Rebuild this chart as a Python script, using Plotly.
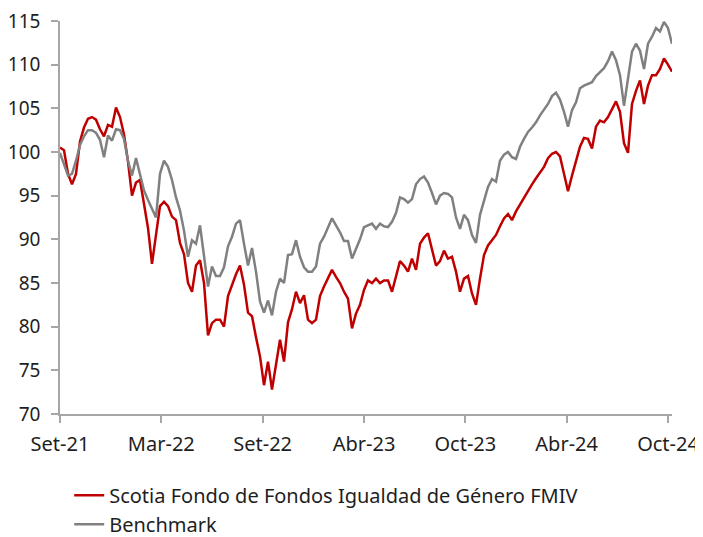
import plotly.graph_objects as go

tick_labels = ["Set-21", "Mar-22", "Set-22", "Abr-23", "Oct-23", "Abr-24", "Oct-24"]

fund = [100.5, 100.2, 97.5, 96.3, 97.5, 101.2, 102.8, 103.8, 104.0, 103.7,
        102.6, 101.8, 103.1, 102.9, 105.1, 104.0, 102.0, 98.9, 95.0, 96.5,
        96.8, 94.2, 91.3, 87.2, 90.5, 93.8, 94.3, 93.8, 92.6, 92.2,
        89.6, 88.3, 85.0, 84.0, 87.0, 87.6, 85.0, 79.0, 80.4, 80.8,
        80.8, 80.0, 83.5, 84.8, 86.0, 87.0, 84.8, 81.6, 81.2, 78.8,
        76.6, 73.3, 76.0, 72.8, 75.5, 78.5, 76.0, 80.5, 82.0, 84.0,
        82.7, 83.6, 80.8, 80.4, 80.8, 83.5, 84.6, 85.5, 86.5, 85.7,
        85.0, 84.0, 83.2, 79.8, 81.5, 82.5, 84.2, 85.3, 85.0, 85.5,
        85.0, 85.3, 85.3, 84.0, 85.9, 87.5, 87.0, 86.3, 87.8, 86.5,
        89.5, 90.2, 90.7, 88.8, 87.0, 87.5, 88.7, 87.8, 88.0, 86.3,
        84.0, 85.5, 85.8, 83.8, 82.5, 85.5, 88.2, 89.3, 89.9, 90.5,
        91.5, 92.4, 92.9, 92.2, 93.2, 94.0, 94.8, 95.6, 96.3, 97.0,
        97.6, 98.3, 99.3, 99.8, 100.0, 99.5, 97.5, 95.5, 97.3, 99.0,
        100.6, 101.6, 101.5, 100.4, 102.9, 103.6, 103.4, 104.0, 105.0, 105.8,
        104.6, 101.0, 99.9, 105.5, 107.0, 108.2, 105.5, 107.6, 108.8, 108.8,
        109.5, 110.7, 110.0, 109.2]

benchmark = [99.9, 98.5, 97.3, 97.5, 99.0, 100.8, 101.8, 102.5, 102.5, 102.2,
             101.4, 99.4, 101.9, 101.3, 102.6, 102.5, 101.5, 99.0, 97.3, 99.3,
             97.5, 95.6, 94.5, 93.5, 92.5, 97.5, 99.0, 98.3, 96.8, 94.8,
             93.3, 91.0, 88.0, 89.9, 89.5, 91.6, 88.0, 84.6, 86.9, 85.8,
             85.8, 86.8, 89.2, 90.3, 91.8, 92.2, 89.5, 87.0, 89.0, 86.3,
             82.9, 81.6, 83.0, 81.3, 84.0, 85.5, 85.0, 88.2, 88.3, 89.9,
             88.0, 86.8, 86.3, 86.3, 86.9, 89.5, 90.3, 91.4, 92.4, 91.6,
             90.8, 89.8, 89.8, 87.8, 88.8, 90.0, 91.4, 91.6, 91.8, 91.2,
             91.8, 91.5, 91.4, 92.0, 93.0, 94.8, 94.6, 94.2, 94.6, 96.3,
             96.9, 97.2, 96.5, 95.3, 94.0, 95.0, 95.3, 95.2, 94.8, 92.5,
             91.2, 92.8, 92.2, 90.5, 89.6, 92.8, 94.5, 96.0, 96.9, 96.6,
             99.0, 99.7, 100.0, 99.4, 99.2, 100.6, 101.5, 102.3, 102.8, 103.4,
             104.2, 104.8, 105.5, 106.4, 106.8, 106.0, 104.6, 102.9, 104.8, 105.7,
             107.3, 107.6, 107.8, 108.0, 108.7, 109.1, 109.6, 110.4, 111.5, 110.5,
             108.8, 105.3, 108.5, 111.5, 112.4, 111.6, 109.5, 112.4, 113.2, 114.2,
             113.8, 114.9, 114.2, 112.4]

idx = list(range(len(fund)))
last_tick = len(fund) - 2
tick_pos = [last_tick * i / (len(tick_labels) - 1) for i in range(len(tick_labels))]

FONT = "Noto Sans"
TXT = "#1E1E1E"
AXIS_COLOR = "#A6A6A6"

fig = go.Figure()
fig.add_trace(go.Scatter(x=idx, y=fund, mode="lines",
                         name="Scotia Fondo de Fondos Igualdad de Género FMIV",
                         line=dict(color="#C00000", width=2.5)))
fig.add_trace(go.Scatter(x=idx, y=benchmark, mode="lines", name="Benchmark",
                         line=dict(color="#808080", width=2.5)))

# the page body adds an 8px offset, margins compensate for it
fig.update_layout(
    width=703, height=537,
    margin=dict(l=52, r=39, t=13, b=131, autoexpand=False),
    paper_bgcolor="white", plot_bgcolor="white",
    font=dict(family=FONT, size=20, color=TXT),
    legend=dict(orientation="v", x=0.015, xanchor="left", y=-0.157, yanchor="top",
                font=dict(family=FONT, size=20, color=TXT),
                bgcolor="rgba(0,0,0,0)"),
    showlegend=True,
)
fig.update_xaxes(range=[0, len(fund) - 1], tickmode="array", tickvals=tick_pos,
                 ticktext=tick_labels, showgrid=False, zeroline=False,
                 showline=True, linecolor=AXIS_COLOR, linewidth=1.5,
                 ticks="outside", ticklen=7, tickcolor=AXIS_COLOR, tickwidth=1.5,
                 ticklabelstandoff=4, automargin=False,
                 tickfont=dict(family=FONT, size=20, color=TXT))
fig.update_yaxes(range=[70, 115], tickmode="linear", tick0=70, dtick=5,
                 showgrid=False, zeroline=False,
                 showline=True, linecolor=AXIS_COLOR, linewidth=1.5,
                 ticks="outside", ticklen=7, tickcolor=AXIS_COLOR, tickwidth=1.5,
                 ticklabelstandoff=7, automargin=False, ticklabeloverflow="allow",
                 tickfont=dict(family=FONT, size=19, color=TXT))

fig.write_html("out.html")
